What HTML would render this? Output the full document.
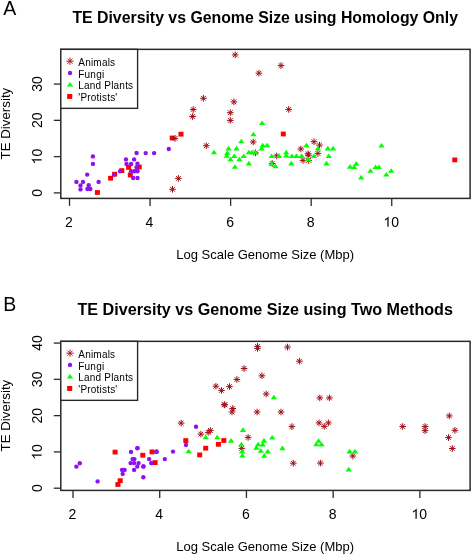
<!DOCTYPE html>
<html><head><meta charset="utf-8"><style>
html,body{margin:0;padding:0;background:#fff;width:472px;height:555px;overflow:hidden}
svg{display:block;will-change:transform}
text{font-family:"Liberation Sans",sans-serif;fill:#000}
</style></head><body>
<svg width="472" height="555" viewBox="0 0 472 555">
<rect width="472" height="555" fill="#fff"/>
<text x="3.2" y="15.2" font-size="19.5">A</text>
<text x="265.2" y="22.9" font-size="15.85" font-weight="bold" text-anchor="middle">TE Diversity vs Genome Size using Homology Only</text>
<rect x="60.8" y="49.35" width="409.3" height="149.05" fill="none" stroke="#2a2a2a" stroke-width="1.5"/>
<line x1="53.8" y1="192.90" x2="60.8" y2="192.90" stroke="#2a2a2a" stroke-width="1.3"/>
<g transform="translate(41.6 192.90) rotate(-90)"><text x="0" y="0" text-anchor="middle" font-size="14.0">0</text></g>
<line x1="53.8" y1="156.62" x2="60.8" y2="156.62" stroke="#2a2a2a" stroke-width="1.3"/>
<g transform="translate(41.6 156.62) rotate(-90)"><path transform="translate(-7.784 0)" d="M 5.222 -0.000 L 3.990 -0.000 L 3.990 -7.840 C 3.696 -7.560 3.304 -7.280 2.800 -6.986 C 2.310 -6.692 1.876 -6.468 1.526 -6.300 L 1.526 -7.490 C 2.142 -7.784 2.814 -8.190 3.542 -8.736 C 4.060 -9.128 4.452 -9.590 4.648 -10.024 L 5.222 -10.024 Z"/><text x="0.000" y="0" font-size="14.0">0</text></g>
<line x1="53.8" y1="120.34" x2="60.8" y2="120.34" stroke="#2a2a2a" stroke-width="1.3"/>
<g transform="translate(41.6 120.34) rotate(-90)"><text x="0" y="0" text-anchor="middle" font-size="14.0">20</text></g>
<line x1="53.8" y1="84.06" x2="60.8" y2="84.06" stroke="#2a2a2a" stroke-width="1.3"/>
<g transform="translate(41.6 84.06) rotate(-90)"><text x="0" y="0" text-anchor="middle" font-size="14.0">30</text></g>
<line x1="69.50" y1="198.4" x2="69.50" y2="205.9" stroke="#2a2a2a" stroke-width="1.3"/>
<g transform="translate(68.90 226.8)"><text x="0" y="0" text-anchor="middle" font-size="14.0">2</text></g>
<line x1="150.06" y1="198.4" x2="150.06" y2="205.9" stroke="#2a2a2a" stroke-width="1.3"/>
<g transform="translate(149.46 226.8)"><text x="0" y="0" text-anchor="middle" font-size="14.0">4</text></g>
<line x1="230.62" y1="198.4" x2="230.62" y2="205.9" stroke="#2a2a2a" stroke-width="1.3"/>
<g transform="translate(230.02 226.8)"><text x="0" y="0" text-anchor="middle" font-size="14.0">6</text></g>
<line x1="311.18" y1="198.4" x2="311.18" y2="205.9" stroke="#2a2a2a" stroke-width="1.3"/>
<g transform="translate(310.58 226.8)"><text x="0" y="0" text-anchor="middle" font-size="14.0">8</text></g>
<line x1="391.74" y1="198.4" x2="391.74" y2="205.9" stroke="#2a2a2a" stroke-width="1.3"/>
<g transform="translate(391.14 226.8)"><path transform="translate(-7.784 0)" d="M 5.222 -0.000 L 3.990 -0.000 L 3.990 -7.840 C 3.696 -7.560 3.304 -7.280 2.800 -6.986 C 2.310 -6.692 1.876 -6.468 1.526 -6.300 L 1.526 -7.490 C 2.142 -7.784 2.814 -8.190 3.542 -8.736 C 4.060 -9.128 4.452 -9.590 4.648 -10.024 L 5.222 -10.024 Z"/><text x="0.000" y="0" font-size="14.0">0</text></g>
<text x="265.2" y="259.3" text-anchor="middle" font-size="13">Log Scale Genome Size (Mbp)</text>
<text transform="translate(10.4 123.6) rotate(-90)" text-anchor="middle" font-size="13.3">TE Diversity</text>
<rect x="60.8" y="49.35" width="76.8" height="58.99999999999999" fill="#fff" stroke="#2a2a2a" stroke-width="1.4"/>
<g fill="#ff0000"><rect x="94.90" y="190.10" width="5.00" height="4.80"/><rect x="108.10" y="175.80" width="5.00" height="4.80"/><rect x="112.10" y="171.80" width="5.00" height="4.80"/><rect x="119.30" y="168.20" width="5.00" height="4.80"/><rect x="126.10" y="165.00" width="5.00" height="4.80"/><rect x="127.80" y="172.60" width="5.00" height="4.80"/><rect x="136.70" y="164.60" width="5.00" height="4.80"/><rect x="178.50" y="131.80" width="5.00" height="4.80"/><rect x="169.70" y="135.60" width="5.00" height="4.80"/><rect x="280.80" y="131.60" width="5.00" height="4.80"/><rect x="452.30" y="157.50" width="5.00" height="4.80"/></g>
<g fill="#9010f0"><circle cx="92.9" cy="156.4" r="2.2"/><circle cx="92.9" cy="163.9" r="2.2"/><circle cx="87.2" cy="174.6" r="2.2"/><circle cx="76.4" cy="181.9" r="2.2"/><circle cx="83.0" cy="181.9" r="2.2"/><circle cx="98.6" cy="181.9" r="2.2"/><circle cx="80.5" cy="185.5" r="2.2"/><circle cx="80.5" cy="189.4" r="2.2"/><circle cx="88.7" cy="185.2" r="2.2"/><circle cx="87.4" cy="189.0" r="2.2"/><circle cx="90.3" cy="189.0" r="2.2"/><circle cx="136.6" cy="153.0" r="2.2"/><circle cx="126.0" cy="159.4" r="2.2"/><circle cx="134.1" cy="159.4" r="2.2"/><circle cx="126.5" cy="164.0" r="2.2"/><circle cx="131.1" cy="164.0" r="2.2"/><circle cx="137.5" cy="163.8" r="2.2"/><circle cx="136.6" cy="167.2" r="2.2"/><circle cx="131.1" cy="171.3" r="2.2"/><circle cx="134.5" cy="171.3" r="2.2"/><circle cx="137.5" cy="171.3" r="2.2"/><circle cx="133.2" cy="178.0" r="2.2"/><circle cx="137.5" cy="178.0" r="2.2"/><circle cx="114.0" cy="174.6" r="2.2"/><circle cx="120.1" cy="171.3" r="2.2"/><circle cx="145.7" cy="153.1" r="2.2"/><circle cx="154.1" cy="153.1" r="2.2"/><circle cx="168.8" cy="149.0" r="2.2"/><circle cx="137.0" cy="170.5" r="2.2"/></g>
<path fill="none" stroke="#a01018" stroke-width="1.0" d="M232.85 52.55L237.55 57.25M232.85 57.25L237.55 52.55M231.88 54.90L238.52 54.90M235.20 51.58L235.20 58.22M278.65 63.25L283.35 67.95M278.65 67.95L283.35 63.25M277.68 65.60L284.32 65.60M281.00 62.28L281.00 68.92M256.55 70.85L261.25 75.55M256.55 75.55L261.25 70.85M255.58 73.20L262.22 73.20M258.90 69.88L258.90 76.52M201.05 95.95L205.75 100.65M201.05 100.65L205.75 95.95M200.08 98.30L206.72 98.30M203.40 94.98L203.40 101.62M231.55 99.55L236.25 104.25M231.55 104.25L236.25 99.55M230.58 101.90L237.22 101.90M233.90 98.58L233.90 105.22M190.85 107.15L195.55 111.85M190.85 111.85L195.55 107.15M189.88 109.50L196.52 109.50M193.20 106.18L193.20 112.82M190.25 114.15L194.95 118.85M190.25 118.85L194.95 114.15M189.28 116.50L195.92 116.50M192.60 113.18L192.60 119.82M227.95 110.35L232.65 115.05M227.95 115.05L232.65 110.35M226.98 112.70L233.62 112.70M230.30 109.38L230.30 116.02M227.95 118.05L232.65 122.75M227.95 122.75L232.65 118.05M226.98 120.40L233.62 120.40M230.30 117.08L230.30 123.72M286.35 107.05L291.05 111.75M286.35 111.75L291.05 107.05M285.38 109.40L292.02 109.40M288.70 106.08L288.70 112.72M172.65 136.05L177.35 140.75M172.65 140.75L177.35 136.05M171.68 138.40L178.32 138.40M175.00 135.08L175.00 141.72M203.95 143.35L208.65 148.05M203.95 148.05L208.65 143.35M202.98 145.70L209.62 145.70M206.30 142.38L206.30 149.02M250.85 139.65L255.55 144.35M250.85 144.35L255.55 139.65M249.88 142.00L256.52 142.00M253.20 138.68L253.20 145.32M253.15 150.45L257.85 155.15M253.15 155.15L257.85 150.45M252.18 152.80L258.82 152.80M255.50 149.48L255.50 156.12M176.05 176.05L180.75 180.75M176.05 180.75L180.75 176.05M175.08 178.40L181.72 178.40M178.40 175.08L178.40 181.72M170.15 186.95L174.85 191.65M170.15 191.65L174.85 186.95M169.18 189.30L175.82 189.30M172.50 185.98L172.50 192.62M274.35 153.55L279.05 158.25M274.35 158.25L279.05 153.55M273.38 155.90L280.02 155.90M276.70 152.58L276.70 159.22M269.85 161.15L274.55 165.85M269.85 165.85L274.55 161.15M268.88 163.50L275.52 163.50M272.20 160.18L272.20 166.82M298.45 146.65L303.15 151.35M298.45 151.35L303.15 146.65M297.48 149.00L304.12 149.00M300.80 145.68L300.80 152.32M311.65 139.35L316.35 144.05M311.65 144.05L316.35 139.35M310.68 141.70L317.32 141.70M314.00 138.38L314.00 145.02M317.15 142.75L321.85 147.45M317.15 147.45L321.85 142.75M316.18 145.10L322.82 145.10M319.50 141.78L319.50 148.42M315.55 151.05L320.25 155.75M315.55 155.75L320.25 151.05M314.58 153.40L321.22 153.40M317.90 150.08L317.90 156.72M305.75 151.45L310.45 156.15M305.75 156.15L310.45 151.45M304.78 153.80L311.42 153.80M308.10 150.48L308.10 157.12M306.05 152.85L310.75 157.55M306.05 157.55L310.75 152.85M305.08 155.20L311.72 155.20M308.40 151.88L308.40 158.52M300.65 158.05L305.35 162.75M300.65 162.75L305.35 158.05M299.68 160.40L306.32 160.40M303.00 157.08L303.00 163.72M306.35 158.05L311.05 162.75M306.35 162.75L311.05 158.05M305.38 160.40L312.02 160.40M308.70 157.08L308.70 163.72"/>
<g fill="#00ff00"><path d="M253.40 131.65L256.55 136.25L250.25 136.25Z"/><path d="M241.30 138.65L244.45 143.25L238.15 143.25Z"/><path d="M214.00 149.65L217.15 154.25L210.85 154.25Z"/><path d="M228.60 145.85L231.75 150.45L225.45 150.45Z"/><path d="M236.50 145.85L239.65 150.45L233.35 150.45Z"/><path d="M227.30 150.35L230.45 154.95L224.15 154.95Z"/><path d="M226.70 153.25L229.85 157.85L223.55 157.85Z"/><path d="M234.30 153.45L237.45 158.05L231.15 158.05Z"/><path d="M243.80 153.45L246.95 158.05L240.65 158.05Z"/><path d="M230.50 156.65L233.65 161.25L227.35 161.25Z"/><path d="M239.40 156.65L242.55 161.25L236.25 161.25Z"/><path d="M248.80 149.65L251.95 154.25L245.65 154.25Z"/><path d="M251.70 149.65L254.85 154.25L248.55 154.25Z"/><path d="M255.20 149.65L258.35 154.25L252.05 154.25Z"/><path d="M248.90 160.85L252.05 165.45L245.75 165.45Z"/><path d="M234.90 164.25L238.05 168.85L231.75 168.85Z"/><path d="M262.10 120.45L265.25 125.05L258.95 125.05Z"/><path d="M262.70 142.65L265.85 147.25L259.55 147.25Z"/><path d="M267.20 142.65L270.35 147.25L264.05 147.25Z"/><path d="M261.70 145.85L264.85 150.45L258.55 150.45Z"/><path d="M271.60 153.45L274.75 158.05L268.45 158.05Z"/><path d="M279.00 153.45L282.15 158.05L275.85 158.05Z"/><path d="M286.20 149.65L289.35 154.25L283.05 154.25Z"/><path d="M286.20 152.85L289.35 157.45L283.05 157.45Z"/><path d="M291.90 153.45L295.05 158.05L288.75 158.05Z"/><path d="M296.40 153.45L299.55 158.05L293.25 158.05Z"/><path d="M301.50 153.45L304.65 158.05L298.35 158.05Z"/><path d="M306.50 142.65L309.65 147.25L303.35 147.25Z"/><path d="M271.60 160.85L274.75 165.45L268.45 165.45Z"/><path d="M275.40 163.65L278.55 168.25L272.25 168.25Z"/><path d="M291.30 160.85L294.45 165.45L288.15 165.45Z"/><path d="M307.80 156.65L310.95 161.25L304.65 161.25Z"/><path d="M317.90 145.85L321.05 150.45L314.75 150.45Z"/><path d="M327.80 145.85L330.95 150.45L324.65 150.45Z"/><path d="M333.10 145.85L336.25 150.45L329.95 150.45Z"/><path d="M313.80 153.45L316.95 158.05L310.65 158.05Z"/><path d="M328.80 153.45L331.95 158.05L325.65 158.05Z"/><path d="M308.50 156.65L311.65 161.25L305.35 161.25Z"/><path d="M326.50 160.85L329.65 165.45L323.35 165.45Z"/><path d="M350.10 164.05L353.25 168.65L346.95 168.65Z"/><path d="M381.50 142.95L384.65 147.55L378.35 147.55Z"/><path d="M356.30 161.05L359.45 165.65L353.15 165.65Z"/><path d="M354.10 164.45L357.25 169.05L350.95 169.05Z"/><path d="M370.40 168.15L373.55 172.75L367.25 172.75Z"/><path d="M375.60 164.45L378.75 169.05L372.45 169.05Z"/><path d="M378.90 164.45L382.05 169.05L375.75 169.05Z"/><path d="M391.20 168.15L394.35 172.75L388.05 172.75Z"/><path d="M386.30 171.95L389.45 176.55L383.15 176.55Z"/><path d="M361.20 174.85L364.35 179.45L358.05 179.45Z"/><path d="M296.60 153.45L299.75 158.05L293.45 158.05Z"/><path d="M301.70 153.45L304.85 158.05L298.55 158.05Z"/></g>
<path fill="none" stroke="#a01018" stroke-width="0.9" d="M67.40 58.60L72.60 63.80M67.40 63.80L72.60 58.60M66.32 61.20L73.68 61.20M70.00 57.52L70.00 64.88"/>
<g fill="#9010f0"><circle cx="70.0" cy="73.0" r="2.2"/></g>
<g fill="#00ff00"><path d="M70.00 81.95L73.15 86.55L66.85 86.55Z"/></g>
<g fill="#ff0000"><rect x="67.15" y="93.95" width="5.10" height="5.00"/></g>
<text x="78.3" y="65.9" font-size="10" letter-spacing="0.2">Animals</text>
<text x="78.3" y="77.7" font-size="10" letter-spacing="0.2">Fungi</text>
<text x="78.3" y="89.4" font-size="10" letter-spacing="0.2">Land Plants</text>
<text x="78.3" y="101.2" font-size="10" letter-spacing="0.2">'Protists'</text>
<text x="3.2" y="311.4" font-size="19.5">B</text>
<text x="265.2" y="314.9" font-size="16.15" font-weight="bold" text-anchor="middle">TE Diversity vs Genome Size using Two Methods</text>
<rect x="60.8" y="341.35" width="409.3" height="149.04999999999995" fill="none" stroke="#2a2a2a" stroke-width="1.5"/>
<line x1="53.8" y1="488.20" x2="60.8" y2="488.20" stroke="#2a2a2a" stroke-width="1.3"/>
<g transform="translate(41.6 488.20) rotate(-90)"><text x="0" y="0" text-anchor="middle" font-size="14.0">0</text></g>
<line x1="53.8" y1="451.92" x2="60.8" y2="451.92" stroke="#2a2a2a" stroke-width="1.3"/>
<g transform="translate(41.6 451.92) rotate(-90)"><path transform="translate(-7.784 0)" d="M 5.222 -0.000 L 3.990 -0.000 L 3.990 -7.840 C 3.696 -7.560 3.304 -7.280 2.800 -6.986 C 2.310 -6.692 1.876 -6.468 1.526 -6.300 L 1.526 -7.490 C 2.142 -7.784 2.814 -8.190 3.542 -8.736 C 4.060 -9.128 4.452 -9.590 4.648 -10.024 L 5.222 -10.024 Z"/><text x="0.000" y="0" font-size="14.0">0</text></g>
<line x1="53.8" y1="415.64" x2="60.8" y2="415.64" stroke="#2a2a2a" stroke-width="1.3"/>
<g transform="translate(41.6 415.64) rotate(-90)"><text x="0" y="0" text-anchor="middle" font-size="14.0">20</text></g>
<line x1="53.8" y1="379.36" x2="60.8" y2="379.36" stroke="#2a2a2a" stroke-width="1.3"/>
<g transform="translate(41.6 379.36) rotate(-90)"><text x="0" y="0" text-anchor="middle" font-size="14.0">30</text></g>
<line x1="53.8" y1="343.08" x2="60.8" y2="343.08" stroke="#2a2a2a" stroke-width="1.3"/>
<g transform="translate(41.6 343.08) rotate(-90)"><text x="0" y="0" text-anchor="middle" font-size="14.0">40</text></g>
<line x1="73.00" y1="490.4" x2="73.00" y2="497.9" stroke="#2a2a2a" stroke-width="1.3"/>
<g transform="translate(72.40 518.8)"><text x="0" y="0" text-anchor="middle" font-size="14.0">2</text></g>
<line x1="159.72" y1="490.4" x2="159.72" y2="497.9" stroke="#2a2a2a" stroke-width="1.3"/>
<g transform="translate(159.12 518.8)"><text x="0" y="0" text-anchor="middle" font-size="14.0">4</text></g>
<line x1="246.44" y1="490.4" x2="246.44" y2="497.9" stroke="#2a2a2a" stroke-width="1.3"/>
<g transform="translate(245.84 518.8)"><text x="0" y="0" text-anchor="middle" font-size="14.0">6</text></g>
<line x1="333.16" y1="490.4" x2="333.16" y2="497.9" stroke="#2a2a2a" stroke-width="1.3"/>
<g transform="translate(332.56 518.8)"><text x="0" y="0" text-anchor="middle" font-size="14.0">8</text></g>
<line x1="419.88" y1="490.4" x2="419.88" y2="497.9" stroke="#2a2a2a" stroke-width="1.3"/>
<g transform="translate(419.28 518.8)"><path transform="translate(-7.784 0)" d="M 5.222 -0.000 L 3.990 -0.000 L 3.990 -7.840 C 3.696 -7.560 3.304 -7.280 2.800 -6.986 C 2.310 -6.692 1.876 -6.468 1.526 -6.300 L 1.526 -7.490 C 2.142 -7.784 2.814 -8.190 3.542 -8.736 C 4.060 -9.128 4.452 -9.590 4.648 -10.024 L 5.222 -10.024 Z"/><text x="0.000" y="0" font-size="14.0">0</text></g>
<text x="265.2" y="551.3" text-anchor="middle" font-size="13">Log Scale Genome Size (Mbp)</text>
<text transform="translate(10.4 415.6) rotate(-90)" text-anchor="middle" font-size="13.3">TE Diversity</text>
<rect x="60.8" y="341.35" width="76.8" height="58.99999999999999" fill="#fff" stroke="#2a2a2a" stroke-width="1.4"/>
<g fill="#ff0000"><rect x="112.60" y="449.70" width="5.00" height="4.80"/><rect x="140.30" y="452.80" width="5.00" height="4.80"/><rect x="149.60" y="449.50" width="5.00" height="4.80"/><rect x="152.60" y="460.20" width="5.00" height="4.80"/><rect x="117.70" y="478.30" width="5.00" height="4.80"/><rect x="115.40" y="482.10" width="5.00" height="4.80"/><rect x="183.30" y="438.20" width="5.00" height="4.80"/><rect x="203.20" y="445.80" width="5.00" height="4.80"/><rect x="197.20" y="452.50" width="5.00" height="4.80"/><rect x="215.90" y="441.90" width="5.00" height="4.80"/><rect x="221.30" y="438.10" width="5.00" height="4.80"/></g>
<g fill="#9010f0"><circle cx="79.8" cy="463.2" r="2.2"/><circle cx="76.4" cy="466.6" r="2.2"/><circle cx="97.6" cy="481.4" r="2.2"/><circle cx="131.0" cy="451.9" r="2.2"/><circle cx="137.3" cy="448.3" r="2.2"/><circle cx="156.4" cy="451.9" r="2.2"/><circle cx="164.8" cy="459.1" r="2.2"/><circle cx="132.6" cy="459.1" r="2.2"/><circle cx="134.4" cy="459.1" r="2.2"/><circle cx="130.6" cy="463.1" r="2.2"/><circle cx="134.1" cy="463.1" r="2.2"/><circle cx="138.6" cy="463.1" r="2.2"/><circle cx="137.3" cy="466.5" r="2.2"/><circle cx="143.3" cy="466.5" r="2.2"/><circle cx="149.1" cy="459.1" r="2.2"/><circle cx="151.3" cy="463.1" r="2.2"/><circle cx="134.1" cy="469.9" r="2.2"/><circle cx="122.1" cy="469.9" r="2.2"/><circle cx="124.6" cy="469.9" r="2.2"/><circle cx="122.7" cy="473.9" r="2.2"/><circle cx="143.3" cy="477.3" r="2.2"/><circle cx="196.0" cy="426.8" r="2.2"/><circle cx="186.0" cy="445.0" r="2.2"/><circle cx="173.0" cy="451.6" r="2.2"/><circle cx="156.6" cy="451.5" r="2.2"/><circle cx="151.6" cy="463.1" r="2.2"/><circle cx="143.5" cy="466.4" r="2.2"/><circle cx="137.6" cy="448.1" r="2.2"/></g>
<path fill="none" stroke="#a01018" stroke-width="1.0" d="M255.15 344.05L259.85 348.75M255.15 348.75L259.85 344.05M254.18 346.40L260.82 346.40M257.50 343.08L257.50 349.72M255.15 346.05L259.85 350.75M255.15 350.75L259.85 346.05M254.18 348.40L260.82 348.40M257.50 345.08L257.50 351.72M285.15 344.75L289.85 349.45M285.15 349.45L289.85 344.75M284.18 347.10L290.82 347.10M287.50 343.78L287.50 350.42M297.05 358.85L301.75 363.55M297.05 363.55L301.75 358.85M296.08 361.20L302.72 361.20M299.40 357.88L299.40 364.52M241.75 366.15L246.45 370.85M241.75 370.85L246.45 366.15M240.78 368.50L247.42 368.50M244.10 365.18L244.10 371.82M259.55 373.45L264.25 378.15M259.55 378.15L264.25 373.45M258.58 375.80L265.22 375.80M261.90 372.48L261.90 379.12M234.55 377.15L239.25 381.85M234.55 381.85L239.25 377.15M233.58 379.50L240.22 379.50M236.90 376.18L236.90 382.82M213.55 383.85L218.25 388.55M213.55 388.55L218.25 383.85M212.58 386.20L219.22 386.20M215.90 382.88L215.90 389.52M219.15 388.05L223.85 392.75M219.15 392.75L223.85 388.05M218.18 390.40L224.82 390.40M221.50 387.08L221.50 393.72M227.15 384.25L231.85 388.95M227.15 388.95L231.85 384.25M226.18 386.60L232.82 386.60M229.50 383.28L229.50 389.92M222.45 402.35L227.15 407.05M222.45 407.05L227.15 402.35M221.48 404.70L228.12 404.70M224.80 401.38L224.80 408.02M230.35 406.15L235.05 410.85M230.35 410.85L235.05 406.15M229.38 408.50L236.02 408.50M232.70 405.18L232.70 411.82M229.65 409.65L234.35 414.35M229.65 414.35L234.35 409.65M228.68 412.00L235.32 412.00M232.00 408.68L232.00 415.32M254.75 409.65L259.45 414.35M254.75 414.35L259.45 409.65M253.78 412.00L260.42 412.00M257.10 408.68L257.10 415.32M263.85 391.65L268.55 396.35M263.85 396.35L268.55 391.65M262.88 394.00L269.52 394.00M266.20 390.68L266.20 397.32M278.65 409.65L283.35 414.35M278.65 414.35L283.35 409.65M277.68 412.00L284.32 412.00M281.00 408.68L281.00 415.32M317.45 395.55L322.15 400.25M317.45 400.25L322.15 395.55M316.48 397.90L323.12 397.90M319.80 394.58L319.80 401.22M327.05 395.55L331.75 400.25M327.05 400.25L331.75 395.55M326.08 397.90L332.72 397.90M329.40 394.58L329.40 401.22M316.65 420.55L321.35 425.25M316.65 425.25L321.35 420.55M315.68 422.90L322.32 422.90M319.00 419.58L319.00 426.22M326.05 420.55L330.75 425.25M326.05 425.25L330.75 420.55M325.08 422.90L331.72 422.90M328.40 419.58L328.40 426.22M321.85 424.05L326.55 428.75M321.85 428.75L326.55 424.05M320.88 426.40L327.52 426.40M324.20 423.08L324.20 429.72M318.05 460.75L322.75 465.45M318.05 465.45L322.75 460.75M317.08 463.10L323.72 463.10M320.40 459.78L320.40 466.42M350.45 453.65L355.15 458.35M350.45 458.35L355.15 453.65M349.48 456.00L356.12 456.00M352.80 452.68L352.80 459.32M400.35 424.15L405.05 428.85M400.35 428.85L405.05 424.15M399.38 426.50L406.02 426.50M402.70 423.18L402.70 429.82M422.75 424.15L427.45 428.85M422.75 428.85L427.45 424.15M421.78 426.50L428.42 426.50M425.10 423.18L425.10 429.82M422.75 428.35L427.45 433.05M422.75 433.05L427.45 428.35M421.78 430.70L428.42 430.70M425.10 427.38L425.10 434.02M446.95 413.55L451.65 418.25M446.95 418.25L451.65 413.55M445.98 415.90L452.62 415.90M449.30 412.58L449.30 419.22M452.55 427.95L457.25 432.65M452.55 432.65L457.25 427.95M451.58 430.30L458.22 430.30M454.90 426.98L454.90 433.62M446.15 435.25L450.85 439.95M446.15 439.95L450.85 435.25M445.18 437.60L451.82 437.60M448.50 434.28L448.50 440.92M449.95 446.15L454.65 450.85M449.95 450.85L454.65 446.15M448.98 448.50L455.62 448.50M452.30 445.18L452.30 451.82M178.85 420.75L183.55 425.45M178.85 425.45L183.55 420.75M177.88 423.10L184.52 423.10M181.20 419.78L181.20 426.42M198.55 431.75L203.25 436.45M198.55 436.45L203.25 431.75M197.58 434.10L204.22 434.10M200.90 430.78L200.90 437.42M205.85 430.05L210.55 434.75M205.85 434.75L210.55 430.05M204.88 432.40L211.52 432.40M208.20 429.08L208.20 435.72M208.05 428.05L212.75 432.75M208.05 432.75L212.75 428.05M207.08 430.40L213.72 430.40M210.40 427.08L210.40 433.72M221.95 402.55L226.65 407.25M221.95 407.25L226.65 402.55M220.98 404.90L227.62 404.90M224.30 401.58L224.30 408.22M289.55 424.25L294.25 428.95M289.55 428.95L294.25 424.25M288.58 426.60L295.22 426.60M291.90 423.28L291.90 429.92M290.95 460.85L295.65 465.55M290.95 465.55L295.65 460.85M289.98 463.20L296.62 463.20M293.30 459.88L293.30 466.52M245.75 435.05L250.45 439.75M245.75 439.75L250.45 435.05M244.78 437.40L251.42 437.40M248.10 434.08L248.10 440.72M239.35 446.05L244.05 450.75M239.35 450.75L244.05 446.05M238.38 448.40L245.02 448.40M241.70 445.08L241.70 451.72"/>
<g fill="#00ff00"><path d="M188.60 448.75L191.75 453.35L185.45 453.35Z"/><path d="M205.70 434.75L208.85 439.35L202.55 439.35Z"/><path d="M217.20 434.75L220.35 439.35L214.05 439.35Z"/><path d="M231.10 438.05L234.25 442.65L227.95 442.65Z"/><path d="M243.00 427.35L246.15 431.95L239.85 431.95Z"/><path d="M241.30 441.65L244.45 446.25L238.15 446.25Z"/><path d="M242.10 448.85L245.25 453.45L238.95 453.45Z"/><path d="M242.30 452.95L245.45 457.55L239.15 457.55Z"/><path d="M273.90 394.75L277.05 399.35L270.75 399.35Z"/><path d="M318.60 438.15L321.75 442.75L315.45 442.75Z"/><path d="M316.40 441.75L319.55 446.35L313.25 446.35Z"/><path d="M321.50 441.75L324.65 446.35L318.35 446.35Z"/><path d="M349.60 448.85L352.75 453.45L346.45 453.45Z"/><path d="M355.00 448.85L358.15 453.45L351.85 453.45Z"/><path d="M348.70 466.85L351.85 471.45L345.55 471.45Z"/><path d="M272.20 434.95L275.35 439.55L269.05 439.55Z"/><path d="M264.00 438.05L267.15 442.65L260.85 442.65Z"/><path d="M258.20 441.65L261.35 446.25L255.05 446.25Z"/><path d="M262.70 441.85L265.85 446.45L259.55 446.45Z"/><path d="M256.30 445.05L259.45 449.65L253.15 449.65Z"/><path d="M260.80 448.25L263.95 452.85L257.65 452.85Z"/><path d="M267.80 448.85L270.95 453.45L264.65 453.45Z"/><path d="M264.20 453.05L267.35 457.65L261.05 457.65Z"/><path d="M282.40 445.55L285.55 450.15L279.25 450.15Z"/></g>
<path fill="none" stroke="#a01018" stroke-width="0.9" d="M67.40 350.60L72.60 355.80M67.40 355.80L72.60 350.60M66.32 353.20L73.68 353.20M70.00 349.52L70.00 356.88"/>
<g fill="#9010f0"><circle cx="70.0" cy="364.9" r="2.2"/></g>
<g fill="#00ff00"><path d="M70.00 373.95L73.15 378.55L66.85 378.55Z"/></g>
<g fill="#ff0000"><rect x="67.15" y="385.95" width="5.10" height="5.00"/></g>
<text x="78.3" y="357.9" font-size="10" letter-spacing="0.2">Animals</text>
<text x="78.3" y="369.6" font-size="10" letter-spacing="0.2">Fungi</text>
<text x="78.3" y="381.4" font-size="10" letter-spacing="0.2">Land Plants</text>
<text x="78.3" y="393.1" font-size="10" letter-spacing="0.2">'Protists'</text>
</svg></body></html>
